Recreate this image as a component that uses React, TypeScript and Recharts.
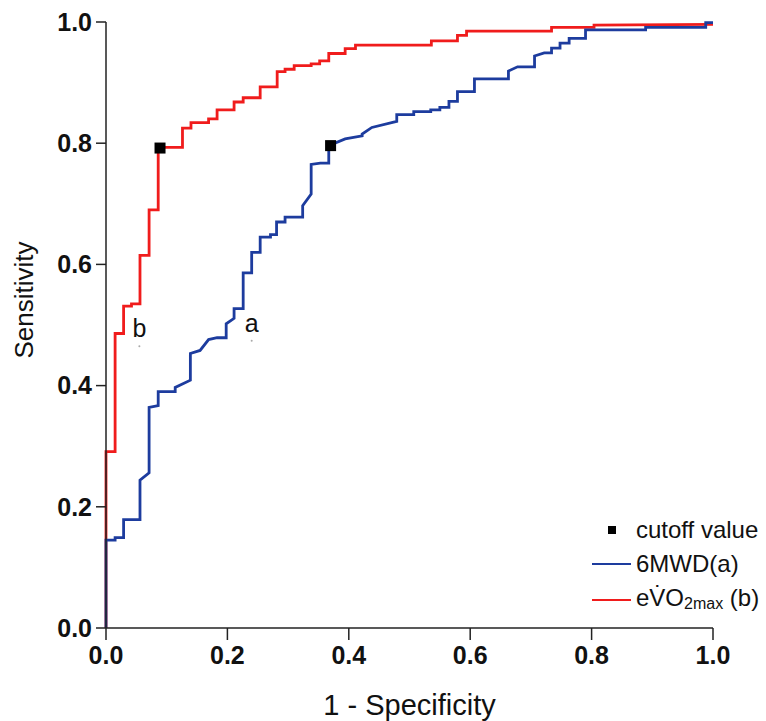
import React from "react";
import {
  LineChart,
  Line,
  XAxis,
  YAxis,
  Scatter,
  ReferenceDot,
} from "recharts";

// ROC curve 6MWD (a) - false positive rate / sensitivity
const mwdFpr = [
  0, 0, 0.015, 0.015, 0.029, 0.029, 0.056, 0.056, 0.056, 0.071, 0.071, 0.086, 0.086,
  0.114, 0.114, 0.139, 0.139, 0.155, 0.169, 0.183, 0.198, 0.198, 0.211, 0.211, 0.226,
  0.226, 0.24, 0.24, 0.254, 0.254, 0.271, 0.271, 0.281, 0.281, 0.295, 0.295, 0.324,
  0.324, 0.338, 0.338, 0.353, 0.367, 0.367, 0.394, 0.422, 0.422, 0.438, 0.479, 0.479,
  0.507, 0.507, 0.535, 0.535, 0.55, 0.55, 0.565, 0.565, 0.579, 0.579, 0.607, 0.607,
  0.663, 0.663, 0.678, 0.706, 0.706, 0.722, 0.734, 0.734, 0.748, 0.748, 0.763, 0.763,
  0.79, 0.79, 0.889, 0.889, 0.988, 0.988, 1.0,
];
const mwdTpr = [
  0, 0.145, 0.145, 0.149, 0.149, 0.179, 0.179, 0.187, 0.244, 0.256, 0.364, 0.367, 0.39,
  0.39, 0.397, 0.409, 0.453, 0.458, 0.476, 0.479, 0.479, 0.502, 0.511, 0.527, 0.527,
  0.586, 0.586, 0.62, 0.62, 0.645, 0.645, 0.649, 0.649, 0.67, 0.67, 0.678, 0.678,
  0.697, 0.716, 0.765, 0.767, 0.767, 0.796, 0.807, 0.812, 0.815, 0.826, 0.836, 0.847,
  0.847, 0.852, 0.852, 0.855, 0.855, 0.859, 0.859, 0.869, 0.869, 0.885, 0.885, 0.906,
  0.906, 0.919, 0.926, 0.926, 0.944, 0.949, 0.949, 0.957, 0.957, 0.965, 0.965, 0.973,
  0.973, 0.987, 0.987, 0.991, 0.991, 0.999, 0.999,
];

// ROC curve eVO2max (b)
const vo2Fpr = [
  0, 0, 0.015, 0.015, 0.029, 0.029, 0.042, 0.042, 0.056, 0.056, 0.071, 0.071, 0.086,
  0.086, 0.126, 0.126, 0.14, 0.14, 0.169, 0.169, 0.183, 0.183, 0.211, 0.211, 0.226,
  0.226, 0.254, 0.254, 0.282, 0.282, 0.295, 0.295, 0.31, 0.31, 0.338, 0.338, 0.352,
  0.352, 0.367, 0.367, 0.394, 0.394, 0.411, 0.411, 0.536, 0.536, 0.579, 0.579, 0.594,
  0.594, 0.734, 0.734, 0.804, 0.804, 1.0,
];
const vo2Tpr = [
  0, 0.291, 0.291, 0.486, 0.486, 0.531, 0.531, 0.535, 0.535, 0.615, 0.615, 0.69, 0.69,
  0.793, 0.793, 0.825, 0.825, 0.834, 0.834, 0.84, 0.84, 0.855, 0.855, 0.868, 0.868,
  0.875, 0.875, 0.893, 0.893, 0.918, 0.918, 0.922, 0.922, 0.928, 0.928, 0.931, 0.931,
  0.936, 0.936, 0.948, 0.948, 0.956, 0.956, 0.962, 0.962, 0.969, 0.969, 0.978, 0.978,
  0.985, 0.985, 0.991, 0.991, 0.995, 0.996,
];

// cutoff points
const cutoffFpr = [0.089, 0.37];
const cutoffTpr = [0.792, 0.796];

const ticks = [0, 0.2, 0.4, 0.6, 0.8, 1.0];

const mwdData = mwdFpr.map((x, i) => ({ x, y: mwdTpr[i] }));
const vo2Data = vo2Fpr.map((x, i) => ({ x, y: vo2Tpr[i] }));
const cutoffData = cutoffFpr.map((x, i) => ({ x, y: cutoffTpr[i] }));

const FONT = "'Liberation Sans', Arial, sans-serif";
const BLUE = "#1d3c9e";
const RED = "#f01c1c";

const SquareMark = (props: any) => (
  <rect x={props.cx - 5.5} y={props.cy - 5.5} width={11} height={11} fill="#000" />
);

function LegendBox() {
  return (
    <div
      style={{
        position: "absolute",
        left: 592,
        top: 513,
        fontFamily: FONT,
        fontSize: 24,
        color: "#111",
        lineHeight: "34px",
        whiteSpace: "nowrap",
      }}
    >
      <div style={{ display: "flex", alignItems: "center" }}>
        <span style={{ width: 8, height: 8, background: "#000", marginLeft: 16, marginRight: 20 }} />
        <span>cutoff value</span>
      </div>
      <div style={{ display: "flex", alignItems: "center" }}>
        <span style={{ width: 39, height: 2, background: BLUE, marginRight: 5 }} />
        <span>6MWD(a)</span>
      </div>
      <div style={{ display: "flex", alignItems: "center" }}>
        <span style={{ width: 39, height: 2, background: RED, marginRight: 5 }} />
        <span>
          eV̇O<span style={{ fontSize: 16, position: "relative", top: 3 }}>2max</span> (b)
        </span>
      </div>
    </div>
  );
}

export default function App() {
  return (
    <div style={{ position: "absolute", left: 0, top: 0, width: 766, height: 721, background: "#fff" }}>
      <LineChart
        width={766}
        height={721}
        margin={{ top: 22, right: 53, left: 0, bottom: 0 }}
      >
        <XAxis
          type="number"
          dataKey="x"
          domain={[0, 1]}
          ticks={ticks}
          tickFormatter={(v: number) => v.toFixed(1)}
          height={93}
          tickSize={12}
          tickMargin={6}
          stroke="#222"
          strokeWidth={1.5}
          tick={{ fill: "#111", fontSize: 25, fontWeight: "bold", fontFamily: FONT }}
          label={{
            value: "1 - Specificity",
            position: "insideBottom",
            offset: 6,
            fill: "#111",
            fontSize: 29,
            fontFamily: FONT,
          }}
        />
        <YAxis
          type="number"
          dataKey="y"
          domain={[0, 1]}
          ticks={ticks}
          tickFormatter={(v: number) => v.toFixed(1)}
          width={106}
          tickSize={10}
          tickMargin={4}
          stroke="#222"
          strokeWidth={1.5}
          tick={{ fill: "#111", fontSize: 25, fontWeight: "bold", fontFamily: FONT }}
          label={{
            content: () => (
              <text
                x={24}
                y={300}
                transform="rotate(-90 24 300)"
                textAnchor="middle"
                dominantBaseline="central"
                fill="#111"
                fontSize={26}
                fontFamily={FONT}
              >
                Sensitivity
              </text>
            ),
          }}
        />
        <Line
          data={vo2Data}
          dataKey="y"
          type="linear"
          stroke={RED}
          strokeWidth={2.8}
          dot={false}
          isAnimationActive={false}
        />
        <Line
          data={mwdData}
          dataKey="y"
          type="linear"
          stroke={BLUE}
          strokeWidth={2.8}
          dot={false}
          isAnimationActive={false}
        />
        <Scatter data={cutoffData} dataKey="y" shape={SquareMark} isAnimationActive={false} />
        <ReferenceDot
          x={0.055}
          y={0.465}
          r={1}
          fill="#aaa"
          stroke="none"
          label={{ value: "b", position: "top", offset: 8, fill: "#111", fontSize: 25, fontFamily: FONT }}
        />
        <ReferenceDot
          x={0.24}
          y={0.474}
          r={1}
          fill="#aaa"
          stroke="none"
          label={{ value: "a", position: "top", offset: 8, fill: "#111", fontSize: 25, fontFamily: FONT }}
        />
      </LineChart>
      <LegendBox />
    </div>
  );
}
